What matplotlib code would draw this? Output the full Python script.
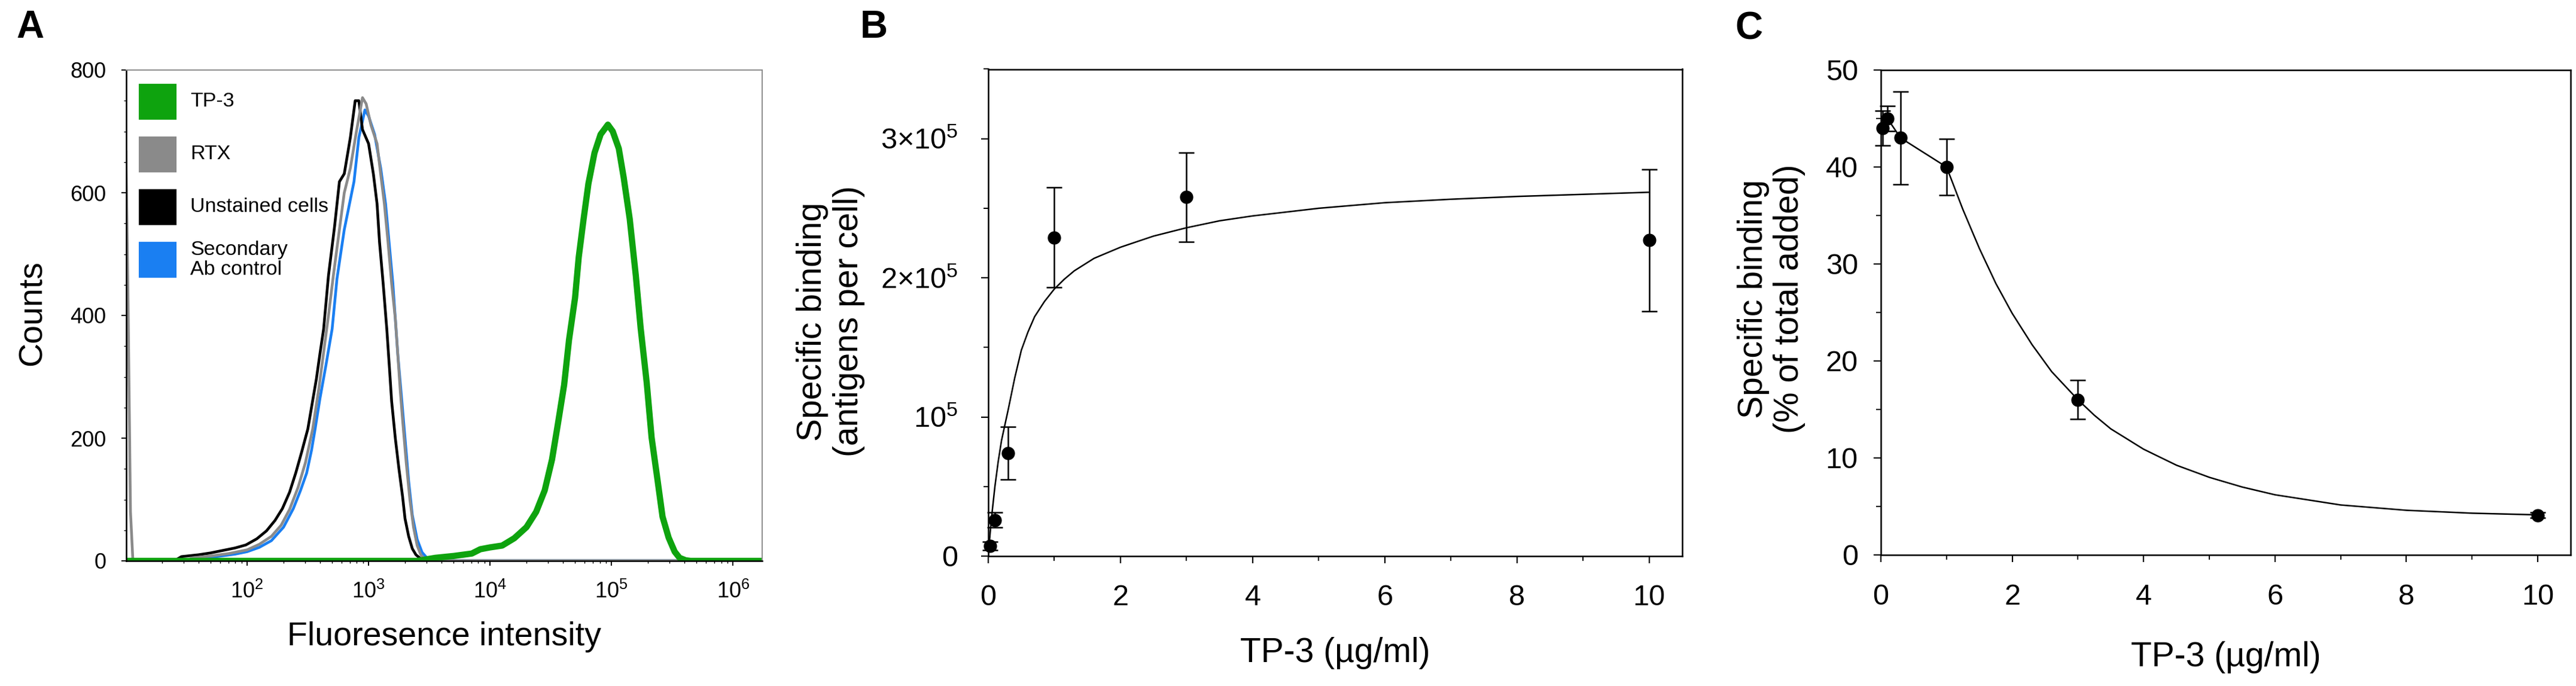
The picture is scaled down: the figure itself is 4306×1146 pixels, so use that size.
import numpy as np
import matplotlib.pyplot as plt
from matplotlib.patches import Rectangle
from matplotlib.ticker import LogLocator, MultipleLocator, NullFormatter

plt.rcParams['font.family'] = ['Liberation Sans', 'DejaVu Sans']
plt.rcParams['mathtext.fontset'] = 'custom'
plt.rcParams['mathtext.rm'] = 'Liberation Sans'
plt.rcParams['mathtext.it'] = 'Liberation Sans:italic'
plt.rcParams['mathtext.bf'] = 'Liberation Sans:bold'

# ---- panel A: flow cytometry histograms (log10 intensity, counts) ----
tp3_logx = [1.0, 3.40, 3.55, 3.70, 3.85, 3.92, 4.00, 4.10, 4.20, 4.30, 4.38, 4.45,
            4.51, 4.56, 4.61, 4.65, 4.70, 4.73, 4.77, 4.81, 4.86, 4.91, 4.97, 5.01,
            5.06, 5.10, 5.15, 5.20, 5.24, 5.29, 5.33, 5.38, 5.42, 5.47, 5.52, 5.56,
            5.61, 5.65, 6.25]
tp3_counts = [0, 0, 5, 8, 12, 19, 22, 25, 37, 55, 80, 115,
              165, 225, 287, 360, 429, 495, 557, 615, 665, 695, 711, 700,
              672, 625, 557, 465, 379, 290, 201, 130, 72, 38, 15, 5,
              1, 0, 0]

rtx_logx = [1.0, 1.003, 1.02, 1.04, 1.06, 1.50, 1.55, 1.70, 1.85, 2.00, 2.10, 2.20,
            2.28, 2.35, 2.42, 2.48, 2.54, 2.59, 2.63, 2.67, 2.71, 2.76, 2.80, 2.85,
            2.90, 2.95, 2.98, 3.02, 3.07, 3.10, 3.13, 3.16, 3.19, 3.22, 3.24, 3.26,
            3.28, 3.31, 3.34, 3.37, 3.40, 3.43, 3.46, 3.48, 6.25]
rtx_counts = [0, 668, 420, 80, 0, 0, 5, 8, 12, 18, 27, 40,
              58, 84, 120, 160, 215, 280, 340, 400, 465, 540, 600, 640,
              700, 755, 745, 710, 680, 630, 582, 520, 452, 395, 338, 280,
              230, 160, 100, 55, 25, 10, 3, 0, 0]

unst_logx = [1.0, 1.40, 1.46, 1.60, 1.70, 1.80, 1.90, 1.99, 2.08, 2.16, 2.23, 2.29,
             2.35, 2.40, 2.45, 2.50, 2.53, 2.57, 2.60, 2.63, 2.67, 2.72, 2.76, 2.80,
             2.85, 2.89, 2.92, 2.95, 3.00, 3.04, 3.07, 3.09, 3.12, 3.15, 3.17, 3.19,
             3.22, 3.25, 3.28, 3.30, 3.33, 3.36, 3.39, 3.42, 3.45, 6.25]
unst_counts = [0, 0, 7, 10, 13, 17, 21, 26, 36, 49, 66, 85,
               112, 143, 178, 215, 250, 296, 338, 378, 465, 545, 618, 631,
               690, 750, 750, 703, 680, 630, 582, 520, 452, 378, 320, 260,
               200, 150, 105, 69, 40, 20, 10, 5, 0, 0]

sec_logx = [1.0, 1.55, 1.60, 1.75, 1.90, 2.00, 2.10, 2.20, 2.30, 2.38, 2.44, 2.49,
            2.53, 2.56, 2.60, 2.65, 2.70, 2.74, 2.80, 2.88, 2.92, 2.97, 3.00, 3.05,
            3.10, 3.14, 3.20, 3.24, 3.27, 3.30, 3.33, 3.36, 3.40, 3.44, 3.48, 3.51, 6.25]
sec_counts = [0, 0, 4, 7, 11, 15, 22, 33, 55, 85, 115, 143,
              180, 215, 265, 320, 378, 460, 540, 618, 690, 735, 725, 695,
              640, 582, 452, 338, 270, 200, 130, 75, 35, 14, 5, 0, 0]

legend_labels = ['TP-3', 'RTX', 'Unstained cells', 'Secondary\nAb control']
legend_colors = ['#0ea30e', '#8a8a8a', '#000000', '#1a7ff2']

# ---- panel B: saturation binding ----
b_conc = [0.03, 0.1, 0.3, 1, 3, 10]
b_bound = [7200, 26000, 74000, 229000, 258000, 227000]
b_err = [3000, 5300, 19000, 36000, 32000, 51000]
b_fit_x = [0, 0.02, 0.05, 0.1, 0.15, 0.2, 0.3, 0.4, 0.5, 0.6, 0.7, 0.85, 1.0, 1.15,
           1.3, 1.6, 2.0, 2.5, 3.0, 3.5, 4, 5, 6, 7, 8, 9, 10]
b_fit_y = [0, 12000, 28000, 50000, 68000, 83000, 105000, 128000, 148000, 161000,
           172000, 183000, 192000, 199000, 205000, 214000, 222000, 230000, 236000,
           241000, 244500, 250000, 254000, 256500, 258500, 260000, 261500]
b_yticks = [0, 100000, 200000, 300000]
b_yticklabels = ['0', r'$\mathregular{10^{5}}$', r'$\mathregular{2{\times}10^{5}}$',
                 r'$\mathregular{3{\times}10^{5}}$']

# ---- panel C: percent of total added ----
c_conc = [0.03, 0.1, 0.3, 1, 3, 10]
c_pct = [44.0, 45.0, 43.0, 40.0, 16.0, 4.1]
c_err = [1.8, 1.3, 4.8, 2.9, 2.0, 0.3]
c_fit_x = [0.03, 0.1, 0.3, 1.0, 1.25, 1.5, 1.75, 2.0, 2.3, 2.6, 3.0, 3.25, 3.5,
           4.0, 4.5, 5.0, 5.5, 6.0, 7.0, 8.0, 9.0, 10.0]
c_fit_y = [44.0, 45.0, 43.0, 40.0, 35.6, 31.6, 28.0, 24.9, 21.7, 18.9, 16.0, 14.4,
           13.0, 10.9, 9.25, 8.0, 7.0, 6.2, 5.15, 4.6, 4.3, 4.13]

W, H = 4306, 1146
fig = plt.figure(figsize=(W / 100, H / 100), dpi=100)
fig.patch.set_facecolor('white')


def box(left, top, right, bottom):
    return [left / W, 1 - bottom / H, (right - left) / W, (bottom - top) / H]


# ================= A =================
axA = fig.add_axes(box(211, 117, 1274, 937))
axA.plot(np.power(10.0, sec_logx), sec_counts, color=legend_colors[3], lw=3.3)
axA.plot(np.power(10.0, unst_logx), unst_counts, color=legend_colors[2], lw=3.3)
axA.plot(np.power(10.0, rtx_logx), rtx_counts, color=legend_colors[1], lw=3.3)
axA.plot(np.power(10.0, tp3_logx), tp3_counts, color=legend_colors[0], lw=7.5,
         solid_joinstyle='round')
axA.set_xscale('log')
axA.set_xlim(10 ** 1.005, 10 ** 6.24)
axA.set_ylim(0, 800)
axA.xaxis.set_major_locator(LogLocator(base=10, numticks=10))
axA.xaxis.set_minor_locator(LogLocator(base=10, subs=np.arange(2, 10), numticks=20))
axA.xaxis.set_minor_formatter(NullFormatter())
axA.yaxis.set_major_locator(MultipleLocator(200))
axA.yaxis.set_minor_locator(MultipleLocator(50))
axA.tick_params(which='major', direction='out', length=6, width=1.4, labelsize=26, pad=18)
axA.tick_params(which='minor', direction='out', length=3, width=1.0)
for s in ['left', 'bottom']:
    axA.spines[s].set_linewidth(1.8)
    axA.spines[s].set_color('black')
for s in ['top', 'right']:
    axA.spines[s].set_linewidth(1.4)
    axA.spines[s].set_color('#8c8c8c')
axA.set_xlabel('Fluoresence intensity', fontsize=40)
axA.set_ylabel('Counts', fontsize=40)
axA.xaxis.set_label_coords(0.5, -0.123)
axA.yaxis.set_label_coords(-0.123, 0.505)

# legend drawn as colour squares with labels
sq_x, sq_w, sq_h = 0.0195, 0.0593, 0.0732
row_top, row_pitch = 0.972, 0.1073
for i, (lab, col) in enumerate(zip(legend_labels, legend_colors)):
    top = row_top - i * row_pitch
    axA.add_patch(Rectangle((sq_x, top - sq_h), sq_w, sq_h, transform=axA.transAxes,
                            facecolor=col, edgecolor='none', zorder=5))
    axA.text(0.1007, top - sq_h / 2, lab, transform=axA.transAxes, fontsize=24.5,
             ha='left', va='center', linespacing=1.05, zorder=5)

# ================= B =================
axB = fig.add_axes(box(1652, 115.5, 2812, 929))
axB.plot(b_fit_x, b_fit_y, color='black', lw=1.8, zorder=2)
axB.errorbar(b_conc, b_bound, yerr=b_err, fmt='o', color='black', ms=15,
             ecolor='black', elinewidth=1.8, capsize=9.5, capthick=1.8,
             zorder=3, clip_on=False)
axB.set_xlim(0, 10.5)
axB.set_ylim(0, 350000)
axB.set_xticks([0, 2, 4, 6, 8, 10])
axB.xaxis.set_minor_locator(MultipleLocator(1))
axB.set_yticks(b_yticks)
axB.set_yticklabels(b_yticklabels)
axB.yaxis.set_minor_locator(MultipleLocator(50000))
axB.set_xlabel('TP-3 (\u00b5g/ml)', fontsize=41)
axB.set_ylabel('Specific binding\n(antigens per cell)', fontsize=41, linespacing=1.15)
axB.xaxis.set_label_coords(0.5, -0.1655)
axB.yaxis.set_label_coords(-0.178, 0.482)
axB.tick_params(axis='x', which='major', pad=25)
axB.tick_params(axis='y', which='major', pad=28)

# ================= C =================
axC = fig.add_axes(box(3144, 117, 4297, 927))
axC.plot(c_fit_x, c_fit_y, color='black', lw=1.8, zorder=2)
axC.errorbar(c_conc, c_pct, yerr=c_err, fmt='o', color='black', ms=15,
             ecolor='black', elinewidth=1.8, capsize=9.5, capthick=1.8,
             zorder=3, clip_on=False)
axC.set_xlim(0, 10.5)
axC.set_ylim(0, 50)
axC.set_xticks([0, 2, 4, 6, 8, 10])
axC.xaxis.set_minor_locator(MultipleLocator(1))
axC.yaxis.set_major_locator(MultipleLocator(10))
axC.yaxis.set_minor_locator(MultipleLocator(5))
axC.set_xlabel('TP-3 (\u00b5g/ml)', fontsize=41)
axC.set_ylabel('Specific binding\n(% of total added)', fontsize=41, linespacing=1.15)
axC.xaxis.set_label_coords(0.5, -0.178)
axC.yaxis.set_label_coords(-0.109, 0.528)
axC.tick_params(axis='x', which='major', pad=26)
axC.tick_params(axis='y', which='major', pad=19)

for ax in (axB, axC):
    for s in ax.spines.values():
        s.set_linewidth(1.8)
        s.set_color('black')
    ax.tick_params(which='major', direction='out', length=8.5, width=1.6, labelsize=35)
    ax.tick_params(which='minor', direction='out', length=5.5, width=1.4)

# panel letters
for lab, xp, yp in [('A', 27, 16), ('B', 1438, 16), ('C', 2900, 18)]:
    fig.text(xp / W, 1 - yp / H, lab, fontsize=46, fontweight='bold',
             ha='left', va='top')

fig.savefig('out.png', dpi=100, facecolor='white')
